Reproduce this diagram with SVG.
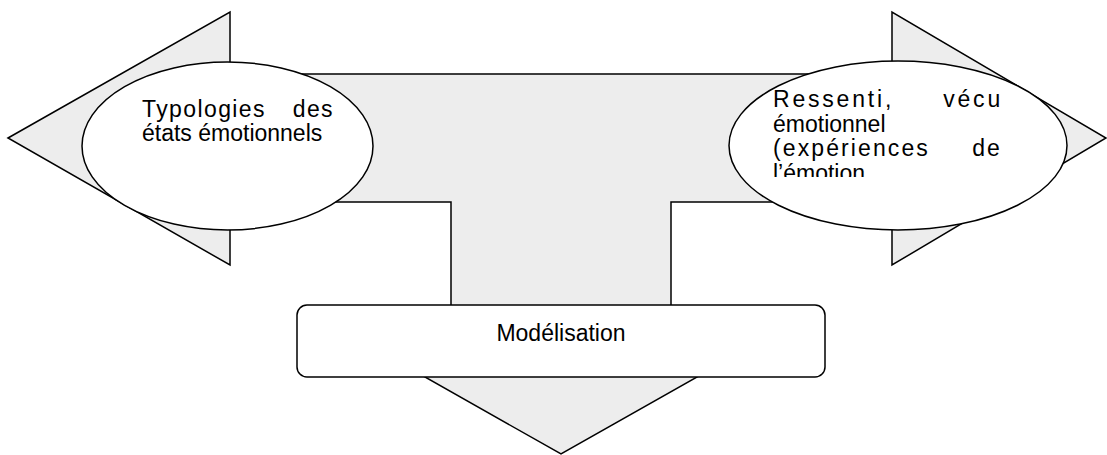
<svg xmlns="http://www.w3.org/2000/svg" width="1107" height="455" viewBox="0 0 1107 455">
<style>
.shape{fill:#ededed;stroke:#000;stroke-width:1.5;stroke-linejoin:miter}
.node{fill:#fff;stroke:#000;stroke-width:1.5}
.t{font-family:"Liberation Sans",Arial,sans-serif;font-size:23px;fill:#000}
.j1{letter-spacing:1.4px}
.w1{letter-spacing:2.8px}
.w2{letter-spacing:2.1px}
</style>
<defs>
<clipPath id="clipR"><rect x="700" y="60" width="320" height="117"/></clipPath>
</defs>
<rect width="1107" height="455" fill="#fff"/>
<g id="connectors">
<path class="shape" d="M8,138 L230,12 L230,74 L892,74 L892,12 L1106,138 L892,265 L892,202 L671,202 L671,315 L806.5,315 L561,454 L315.5,315 L451,315 L451,202 L230,202 L230,265 Z"/>
</g>
<g id="node-typologies">
<ellipse class="node" cx="227.5" cy="146" rx="145.5" ry="84"/>
<text class="t"><tspan class="j1" x="142" y="117">Typologies</tspan><tspan class="j1" x="334" y="117" text-anchor="end">des</tspan><tspan x="142" y="141">états émotionnels</tspan></text>
</g>
<g id="node-ressenti">
<ellipse class="node" cx="898" cy="145.5" rx="169" ry="84.5"/>
<g clip-path="url(#clipR)">
<text class="t"><tspan class="w1" x="773" y="107">Ressenti,</tspan><tspan class="w1" x="1003" y="107" text-anchor="end">vécu</tspan></text>
<text class="t"><tspan x="773" y="131.5">émotionnel</tspan></text>
<text class="t"><tspan class="w2" x="773" y="156">(expériences</tspan><tspan class="w2" x="1002" y="156" text-anchor="end">de</tspan></text>
<text class="t"><tspan x="773" y="180.5">l’émotion</tspan></text>
</g>
</g>
<g id="node-modelisation">
<rect class="node" x="297" y="305" width="528" height="72" rx="10" ry="10"/>
<text class="t" x="561" y="341" text-anchor="middle">Modélisation</text>
</g>
</svg>
